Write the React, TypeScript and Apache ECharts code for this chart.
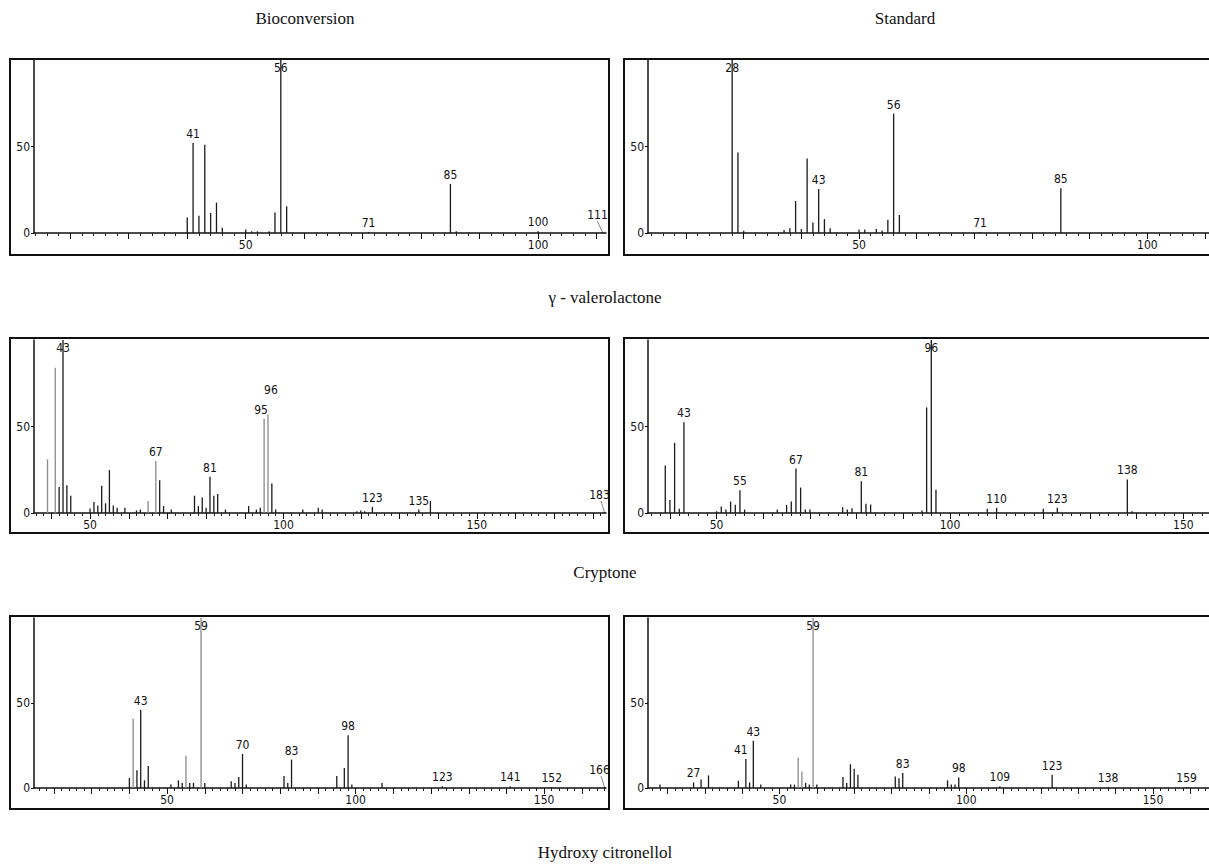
import React, { useEffect, useRef } from "react";
import * as echarts from "echarts";

// ---- data: m/z and relative intensity per spectrum ----
const valBioMz = [40, 41, 42, 43, 44, 45, 46, 50, 51, 52, 54, 55, 56, 57, 71, 85, 86, 100, 111];
const valBioInt = [9, 52, 10, 51, 11.6, 17.6, 3, 2, 1, 1, 1, 11.8, 100, 15.5, 0.5, 28.4, 1, 1, 0.5];
const valBioLabels = [41, 56, 71, 85, 100, 111];

const valStdMz = [28, 29, 30, 37, 38, 39, 40, 41, 42, 43, 44, 45, 50, 51, 53, 54, 55, 56, 57, 71, 85];
const valStdInt = [100, 46.5, 1.3, 1.7, 2.7, 18.5, 2.3, 43, 6, 25.5, 8, 2.7, 2, 2, 2.3, 1.5, 7.7, 69, 10.4, 0.5, 25.9];
const valStdLabels = [28, 43, 56, 71, 85];

const cryBioMz = [39, 41, 42, 43, 44, 45, 50, 51, 52, 53, 54, 55, 56, 57, 59, 62, 63, 65, 67, 68, 69, 71, 77, 78, 79, 80, 81, 82, 83, 85, 91, 93, 94, 95, 96, 97, 98, 105, 109, 110, 119, 120, 121, 123, 135, 138, 183];
const cryBioInt = [31, 84, 15, 100, 16, 10, 2.6, 6.4, 4.4, 15.7, 5.6, 24.9, 4.4, 3, 3, 1.5, 2, 7, 30, 19, 4, 2, 10, 4, 9, 3, 21, 10, 11, 2, 4, 2, 3, 54.5, 57, 17, 2, 2, 3, 2, 1, 1.5, 1, 3.5, 2, 7, 0.5];
const cryBioLabels = [43, 67, 81, 95, 96, 123, 135, 183];

const cryStdMz = [39, 40, 41, 42, 43, 50, 51, 52, 53, 54, 55, 56, 63, 65, 66, 67, 68, 69, 70, 77, 78, 79, 81, 82, 83, 94, 95, 96, 97, 108, 110, 120, 123, 138, 139];
const cryStdInt = [27.4, 7.5, 40.6, 2.5, 52.5, 1, 3.8, 2, 6.6, 4.7, 13.2, 2, 2, 4.7, 6.6, 25.7, 14.7, 2, 2, 3.4, 2, 2.8, 18.3, 5.3, 4.9, 1.5, 61, 100, 13.4, 2.5, 3, 2.5, 3, 19.4, 1];
const cryStdLabels = [43, 55, 67, 81, 96, 110, 123, 138];

const hydBioMz = [40, 41, 42, 43, 44, 45, 51, 53, 54, 55, 56, 57, 59, 60, 67, 68, 69, 70, 71, 81, 82, 83, 95, 97, 98, 99, 107, 123, 141, 152, 166];
const hydBioInt = [5.9, 40.8, 10.4, 46, 4.5, 13, 2, 4.5, 3, 19, 3, 3, 100, 3, 4, 3, 6.5, 20, 2, 7, 3, 16.7, 7, 11.8, 31, 2, 3, 1, 1, 0.5, 0.5];
const hydBioLabels = [43, 59, 70, 83, 98, 123, 141, 152, 166];

const hydStdMz = [18, 27, 29, 31, 39, 41, 42, 43, 45, 53, 54, 55, 56, 57, 58, 59, 60, 67, 68, 69, 70, 71, 81, 82, 83, 95, 96, 97, 98, 109, 123, 138, 159];
const hydStdInt = [2, 3.3, 5, 7.4, 4.3, 17, 3.3, 27.8, 2, 2, 2, 18, 9.7, 3, 2, 100, 2, 6.4, 3, 14, 11.3, 7.8, 6.8, 5.8, 8.8, 4.5, 2, 2, 6.2, 1, 7.8, 0.5, 0.5];
const hydStdLabels = [27, 41, 43, 59, 83, 98, 109, 123, 138, 159];

// peaks that look faint / dotted in the scan
const faintPeaks: Record<number, number[]> = {
  2: [39, 41, 65, 67, 95, 96],
  4: [41, 55, 59],
  5: [55, 56, 59],
};

const xLabelValues = [50, 100, 150];
const yLabelValues = [0, 50];

const compoundTitles = ["γ - valerolactone", "Cryptone", "Hydroxy citronellol"];
const columnTitles = ["Bioconversion", "Standard"];

const panels = [
  { mz: valBioMz, int: valBioInt, labels: valBioLabels, min: 13.8, max: 111.6 },
  { mz: valStdMz, int: valStdInt, labels: valStdLabels, min: 13.4, max: 110.7 },
  { mz: cryBioMz, int: cryBioInt, labels: cryBioLabels, min: 35.5, max: 183.4 },
  { mz: cryStdMz, int: cryStdInt, labels: cryStdLabels, min: 35.3, max: 155.5 },
  { mz: hydBioMz, int: hydBioInt, labels: hydBioLabels, min: 14.7, max: 166.4 },
  { mz: hydStdMz, int: hydStdInt, labels: hydStdLabels, min: 14.8, max: 165 },
];

const NARROW = "'Liberation Sans Narrow', 'DejaVu Sans Condensed', 'Arial Narrow', sans-serif";
const SERIF = "'Liberation Serif', 'Times New Roman', serif";

function ticksBetween(min: number, max: number, step: number) {
  const out: number[] = [];
  for (let v = Math.ceil(min / step) * step; v <= max; v += step) out.push(v);
  return out;
}

export default function App() {
  const ref = useRef<HTMLDivElement>(null);
  useEffect(() => {
    if (!ref.current) return;
    const chart = echarts.init(ref.current, undefined, { renderer: "svg" });

    const rowTop = [60, 340, 618];
    const rowBase = [233, 513, 788];
    const boxTop = [59, 338, 616];
    const boxBottom = [255, 533, 809];
    const colLeft = [34, 648];
    const colWidth = 572;
    const boxLeft = [10, 624];
    const boxWidth = [599, 606];

    // label nudges for crowded labels (panel index -> m/z -> [dx, dy])
    const labelNudge: Record<number, Record<number, number[]>> = {
      2: { 95: [-3, 0], 96: [3, -15] },
      5: { 41: [-5, 0] },
    };

    const grids: any[] = [];
    const xAxes: any[] = [];
    const yAxes: any[] = [];
    const series: any[] = [];
    const graphics: any[] = [];

    panels.forEach((p, i) => {
      const row = Math.floor(i / 2);
      const col = i % 2;
      grids.push({
        left: colLeft[col],
        top: rowTop[row],
        width: colWidth,
        height: rowBase[row] - rowTop[row],
        containLabel: false,
      });
      xAxes.push({
        type: "value",
        gridIndex: i,
        min: p.min,
        max: p.max,
        axisLine: { show: true, onZero: false, lineStyle: { color: "#111", width: 1.5 } },
        axisTick: {
          show: true,
          customValues: ticksBetween(p.min, p.max, 2),
          length: 3,
          lineStyle: { color: "#222", width: 1 },
        },
        axisLabel: {
          customValues: xLabelValues.filter((v) => v > p.min && v < p.max),
          fontFamily: NARROW,
          fontSize: 12,
          color: "#111",
          margin: 6,
        },
        splitLine: { show: false },
      });
      yAxes.push({
        type: "value",
        gridIndex: i,
        min: 0,
        max: 100,
        axisLine: { show: true, lineStyle: { color: "#111", width: 1.5 } },
        axisTick: { show: true, customValues: yLabelValues, length: 3, lineStyle: { color: "#111" } },
        axisLabel: {
          customValues: yLabelValues,
          fontFamily: NARROW,
          fontSize: 12,
          color: "#111",
          margin: 4,
        },
        splitLine: { show: false },
      });
      graphics.push({
        type: "rect",
        shape: { x: boxLeft[col], y: boxTop[row], width: boxWidth[col], height: boxBottom[row] - boxTop[row] },
        style: { fill: "none", stroke: "#111", lineWidth: 2 },
        silent: true,
      });
    });

    // second set of x axes for the longer decade ticks
    panels.forEach((p, i) => {
      xAxes.push({
        type: "value",
        gridIndex: i,
        min: p.min,
        max: p.max,
        axisLine: { show: false, onZero: false },
        axisTick: {
          show: true,
          customValues: ticksBetween(p.min, p.max, 10),
          length: 6,
          lineStyle: { color: "#111", width: 1 },
        },
        axisLabel: { show: false },
        splitLine: { show: false },
        position: "bottom",
      });
    });

    panels.forEach((p, i) => {
      const faint = faintPeaks[i] || [];
      const nudges = labelNudge[i] || {};
      const data = p.mz.map((m, k) => {
        const v = p.int[k];
        const labelled = p.labels.includes(m);
        const isEnd = m === p.mz[p.mz.length - 1] && m > p.max - 2;
        const label: any = { show: labelled };
        if (labelled && v >= 90) {
          label.position = "insideTop";
          label.distance = 2;
        } else if (labelled && isEnd) {
          label.position = "top";
          label.offset = [-5, -8];
        }
        if (nudges[m]) label.offset = nudges[m];
        return {
          value: [m, v],
          itemStyle: { color: faint.includes(m) ? "#8a8a8a" : "#1a1a1a" },
          label,
        };
      });
      series.push({
        type: "bar",
        xAxisIndex: i,
        yAxisIndex: i,
        barWidth: 1.3,
        data,
        label: {
          show: false,
          position: "top",
          distance: 3,
          formatter: (prm: any) => String(prm.value[0]),
          fontFamily: NARROW,
          fontSize: 12,
          color: "#111",
        },
        silent: true,
      });
    });

    // leader lines for end-of-axis labels
    const leaders = [
      { i: 0, m: 111 },
      { i: 2, m: 183 },
      { i: 4, m: 166 },
    ];
    leaders.forEach(({ i, m }) => {
      series.push({
        type: "lines",
        coordinateSystem: "cartesian2d",
        xAxisIndex: i,
        yAxisIndex: i,
        polyline: false,
        silent: true,
        lineStyle: { color: "#111", width: 1 },
        data: [{ coords: [[m - 0.9, 7], [m, 0.5]] }],
      });
    });

    const textStyle = (txt: string, x: number, y: number) => ({
      type: "text",
      x,
      y,
      style: {
        text: txt,
        fill: "#111",
        font: `17px ${SERIF}`,
        textAlign: "center",
        textVerticalAlign: "middle",
      },
      silent: true,
    });
    graphics.push(textStyle(columnTitles[0], 305, 18));
    graphics.push(textStyle(columnTitles[1], 905, 18));
    graphics.push(textStyle(compoundTitles[0], 605, 297));
    graphics.push(textStyle(compoundTitles[1], 605, 572));
    graphics.push(textStyle(compoundTitles[2], 605, 852));

    chart.setOption({
      animation: false,
      backgroundColor: "#fff",
      grid: grids,
      xAxis: xAxes,
      yAxis: yAxes,
      series,
      graphic: graphics,
    });
    return () => chart.dispose();
  }, []);
  return (
    <div
      ref={ref}
      style={{ position: "absolute", left: 0, top: 0, width: 1209, height: 867, background: "#fff" }}
    />
  );
}
